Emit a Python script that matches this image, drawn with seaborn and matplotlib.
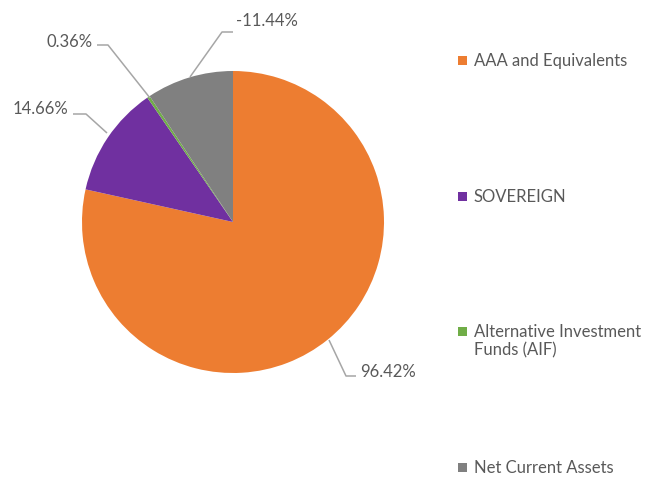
import matplotlib
matplotlib.use("Agg")
import matplotlib.pyplot as plt
import seaborn as sns
from matplotlib.patches import Rectangle

# Portfolio allocation (%)
categories = ["AAA and Equivalents", "SOVEREIGN",
              "Alternative Investment Funds (AIF)", "Net Current Assets"]
legend_labels = ["AAA and Equivalents", "SOVEREIGN",
                 "Alternative Investment\nFunds (AIF)", "Net Current Assets"]
values = [96.42, 14.66, 0.36, -11.44]
colors = ["#ED7D31", "#7030A0", "#70AD47", "#808080"]

sns.set_theme(style="white")
plt.rcParams['font.family'] = ['Lato', 'DejaVu Sans']
text_color = "#595959"
line_color = "#A6A6A6"
fs = 12

W, H = 662, 478
fig = plt.figure(figsize=(W / 100, H / 100), dpi=100)
ax = fig.add_axes([0, 0, 1, 1])


def py(y):
    # pixel row (from top) -> data y
    return H - y


# Excel plots the size of negative values
sizes = [abs(v) for v in values]
ax.pie(sizes, colors=colors, startangle=90, counterclock=False,
       center=(233, py(222)), radius=151, frame=True,
       wedgeprops=dict(linewidth=0))
ax.set_xlim(0, W)
ax.set_ylim(0, H)
ax.axis("off")

# data labels with leader lines: (line points, text anchor)
label_layout = [
    ([(329, 340), (346, 376), (356, 376)], (360, 372)),
    ([(107, 133), (86, 114), (73, 114)], (68, 108.5)),
    ([(150, 98), (108, 45), (97, 45)], (93, 41.5)),
    ([(190, 77), (222, 32), (233, 32)], (236, 20.5)),
]
for val, (pts, (tx, ty)) in zip(values, label_layout):
    xs = [p[0] for p in pts]
    ys = [py(p[1]) for p in pts]
    ax.plot(xs, ys, color=line_color, lw=1.1, solid_capstyle="butt")
    ha = "left" if tx > pts[0][0] else "right"
    ax.text(tx, py(ty), f"{val:.2f}%", color=text_color, fontsize=fs,
            ha=ha, va="center")

# legend
legend_y = [60, 196, 331, 467]
for lab, col, ly in zip(legend_labels, colors, legend_y):
    ax.add_patch(Rectangle((458, py(ly) - 4.5), 9, 9, color=col, lw=0))
    ax.text(474, py(ly) + 7, lab, color=text_color, fontsize=fs,
            ha="left", va="top", linespacing=1.2)

fig.savefig("out.png", dpi=100)
